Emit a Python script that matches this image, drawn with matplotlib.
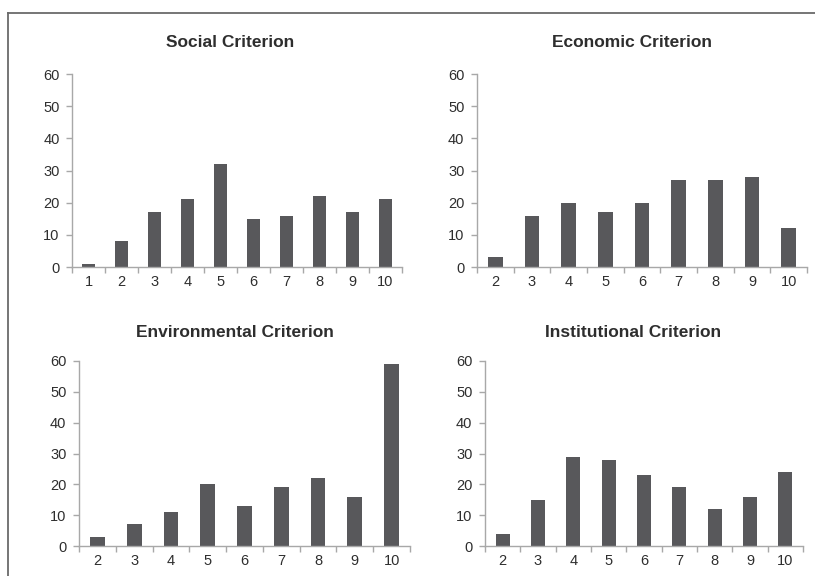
import matplotlib.pyplot as plt
from matplotlib.lines import Line2D
import numpy as np

plt.rcParams['font.family'] = ['Liberation Sans', 'DejaVu Sans']

# scores per criterion
social_cats = ['1', '2', '3', '4', '5', '6', '7', '8', '9', '10']
social_vals = [1, 8, 17, 21, 32, 15, 16, 22, 17, 21]

economic_cats = ['2', '3', '4', '5', '6', '7', '8', '9', '10']
economic_vals = [3, 16, 20, 17, 20, 27, 27, 28, 12]

environmental_cats = ['2', '3', '4', '5', '6', '7', '8', '9', '10']
environmental_vals = [3, 7, 11, 20, 13, 19, 22, 16, 59]

institutional_cats = ['2', '3', '4', '5', '6', '7', '8', '9', '10']
institutional_vals = [4, 15, 29, 28, 23, 19, 12, 16, 24]

W, H = 815, 576
bar_color = '#58585b'
axis_color = '#a8a8a8'
text_color = '#2e2e2e'

fig = plt.figure(figsize=(W / 100, H / 100), dpi=100)


def px_axes(left, right, top, bottom):
    # axes box given in pixels from the top-left corner
    return fig.add_axes([left / W, 1 - bottom / H, (right - left) / W, (bottom - top) / H])


panels = [
    ('Social Criterion', social_cats, social_vals, (72, 402, 74, 267), 19.5, 0.48),
    ('Economic Criterion', economic_cats, economic_vals, (477, 807, 74, 267), 19.5, 0.47),
    ('Environmental Criterion', environmental_cats, environmental_vals, (79, 410, 361, 546), 17.3, 0.47),
    ('Institutional Criterion', institutional_cats, institutional_vals, (485, 803, 361, 546), 17.3, 0.465),
]

for title, cats, vals, box, pad, tx in panels:
    ax = px_axes(*box)
    x = np.arange(len(cats))
    ax.bar(x, vals, width=0.4, color=bar_color, zorder=2)
    ax.set_xlim(-0.5, len(cats) - 0.5)
    ax.set_ylim(0, 60)
    ax.set_yticks(range(0, 61, 10))
    ax.set_xticks(x)
    ax.set_xticklabels(cats)
    ax.set_xticks(np.arange(-0.5, len(cats)), minor=True)
    ax.tick_params(axis='x', which='major', length=0, pad=6, labelsize=10.5, labelcolor=text_color)
    ax.tick_params(axis='x', which='minor', length=4, color=axis_color, width=1)
    ax.tick_params(axis='y', length=4, color=axis_color, width=1, pad=5, labelsize=10.5,
                   labelcolor=text_color)
    for side in ['top', 'right']:
        ax.spines[side].set_visible(False)
    for side in ['left', 'bottom']:
        ax.spines[side].set_color(axis_color)
        ax.spines[side].set_linewidth(1)
    # title sits over the whole chart area, a bit left of the plot centre
    ax.set_title(title, x=tx, pad=pad, fontsize=12.5, fontweight='bold', color=text_color)

# frame lines along the top and left edge
fig.add_artist(Line2D([7.5 / W, 1], [1 - 12.5 / H, 1 - 12.5 / H], color='#6a6a6a', lw=1.3))
fig.add_artist(Line2D([7.5 / W, 7.5 / W], [0, 1 - 12.5 / H], color='#6a6a6a', lw=1.3))

fig.savefig('out.png', dpi=100)
